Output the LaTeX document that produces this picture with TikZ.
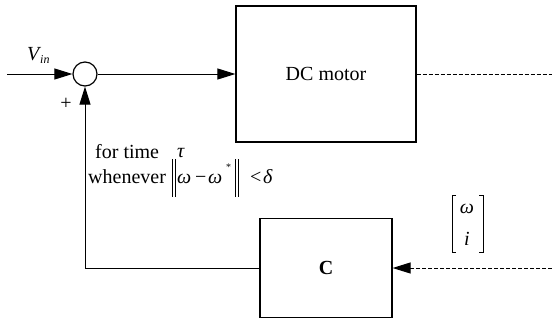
\documentclass[tikz,border=0pt]{standalone}
\usepackage{fontspec}
\setmainfont{Liberation Serif}
\usetikzlibrary{arrows.meta}
\begin{document}
\begin{tikzpicture}[x=1pt,y=-1pt,
  wire/.style={line width=1pt},
  tip/.style={-{Triangle[length=18pt,width=11pt]}},
  arr/.style={wire,tip},
  dashwire/.style={line width=1pt,dash pattern=on 4pt off 2pt},
  block/.style={draw,line width=1.2pt,inner sep=0pt},
  txt/.style={inner sep=0pt,font=\fontsize{20}{24}\selectfont},
  itxt/.style={inner sep=0pt,font=\fontsize{20}{24}\selectfont\itshape},
  small/.style={inner sep=0pt,font=\fontsize{12}{14}\selectfont}]
\useasboundingbox (0,0) rectangle (552,322);
% blocks
\node[block,minimum width=180pt,minimum height=136pt,txt] (dc) at (326,74) {DC motor};
\node[block,minimum width=132pt,minimum height=99pt,txt,font=\fontsize{20}{24}\selectfont\bfseries] (C) at (326,268) {C};
\node[circle,draw,line width=1.2pt,minimum size=24pt,inner sep=0pt] (sum) at (85,74) {};
% input
\coordinate (vin) at (7,74);
\draw[arr] (vin) -- (sum.west);
\node[itxt,anchor=base west] (V) at (27,60) {V};
\node[small,anchor=base west,font=\fontsize{12}{14}\selectfont\itshape] (in) at (40,63) {in};
\node[txt] (plus) at (66,104) {+};
% forward
\draw[arr] (sum.east) -- (dc.west);
\coordinate (outA) at (552,74);
\draw[dashwire] (dc.east) -- (outA);
% feedback
\coordinate (outB) at (552,268);
\draw[dashwire,tip] (outB) -- (C.east);
\draw[arr] (C.west) -| (sum.south);
% state vector
\node[itxt] (w1) at (467,209) {ω};
\node[itxt] (i1) at (467,239) {i};
\draw[line width=0.9pt] (456,195) -- (452,195) -- (452,252) -- (456,252);
\draw[line width=0.9pt] (479,195) -- (483,195) -- (483,252) -- (479,252);
% condition text
\node[txt,anchor=base west] (fortime) at (95,158) {for time};
\node[itxt,anchor=base west] (tau) at (177,157) {τ};
\node[txt,anchor=base west] (whenever) at (88,183) {whenever};
\draw[line width=0.8pt] (172,159) -- (172,197) (175,159) -- (175,197);
\node[itxt,anchor=base west] (w2) at (177,183) {ω};
\node[txt,anchor=base west] (minus) at (195,183) {−};
\node[itxt,anchor=base west] (w3) at (208,183) {ω};
\node[small,anchor=base west,font=\fontsize{10}{12}\selectfont] (star) at (226,170) {*};
\draw[line width=0.8pt] (235,159) -- (235,197) (238,159) -- (238,197);
\node[txt,anchor=base west] (lt) at (250,183) {<};
\node[itxt,anchor=base west] (delta) at (263,183) {δ};
\end{tikzpicture}
\end{document}
